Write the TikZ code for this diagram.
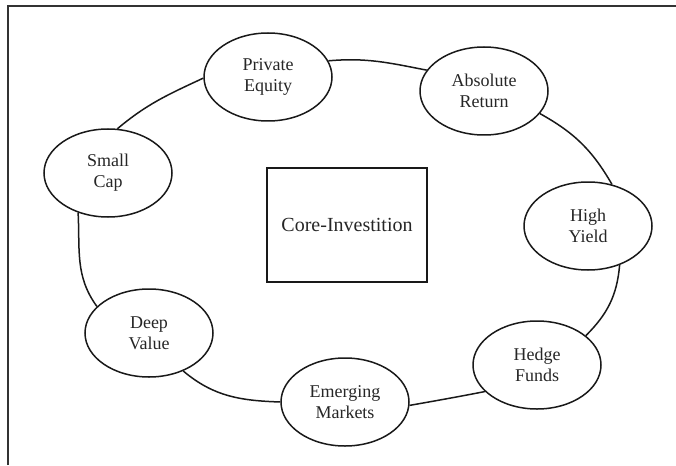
\documentclass[tikz,border=0pt]{standalone}
\usepackage{fontspec}
\setmainfont{Liberation Serif}
\usetikzlibrary{shapes.geometric}
\begin{document}
\begin{tikzpicture}[x=1pt,y=-1pt,
  fund/.style={draw=black!90, line width=1.5pt, ellipse, minimum width=128pt,
    minimum height=88pt, inner sep=0pt, align=center,
    font=\fontsize{18}{21}\selectfont, text=black!85},
  ring/.style={draw=black!90, line width=1.5pt},
  corebox/.style={draw=black!90, line width=1.5pt, minimum width=160pt,
    minimum height=114pt, inner sep=0pt,
    font=\fontsize{20}{24}\selectfont, text=black!85}]
\useasboundingbox (0,0) rectangle (676,465);
% open frame: top and left edges only
\draw[line width=2pt, draw=black!80] (8,465) -- (8,6.5) -- (676,6.5);

% investment categories
\node[fund] (sc) at (108,173) {Small\\Cap};
\node[fund] (pe) at (268,77)  {Private\\Equity};
\node[fund] (ar) at (484,91)  {Absolute\\Return};
\node[fund] (hy) at (588,226) {High\\Yield};
\node[fund] (hf) at (537,365) {Hedge\\Funds};
\node[fund] (em) at (345,402) {Emerging\\Markets};
\node[fund] (dv) at (149,333) {Deep\\Value};

% centre box
\node[corebox] (core) at (347,225) {Core-Investition};

% ring linking the categories
\draw[ring] (sc.78)  to[out=40,in=205]  (pe.181);
\draw[ring] (pe.15)  to[out=5,in=169]   (ar.160);
\draw[ring] (ar.-22) to[out=-29,in=120] (hy.60);
\draw[ring] (hy.-51) to[out=-95,in=45]  (hf.31);
\draw[ring] (hf.207) to[out=191,in=10]  (em.-3);
\draw[ring] (em.180) to[out=178,in=-40] (dv.-48);
\draw[ring] (dv.153) to[out=126,in=-87] (sc.233);
\end{tikzpicture}
\end{document}
